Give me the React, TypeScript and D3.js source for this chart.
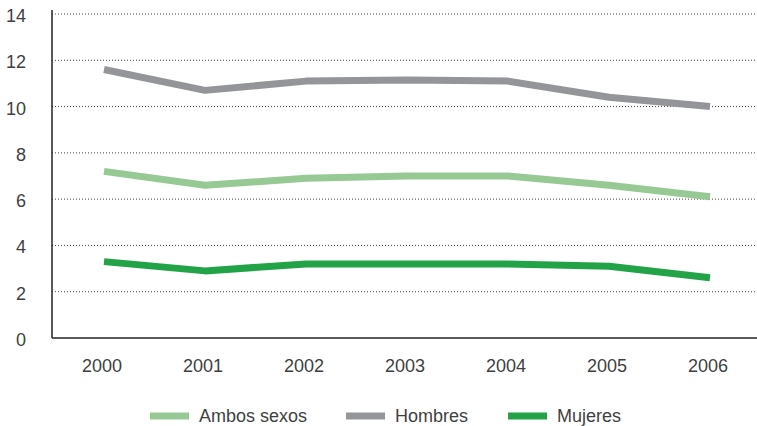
import React from "react";
import * as d3 from "d3";

const years = ["2000", "2001", "2002", "2003", "2004", "2005", "2006"];
const ambos = [7.2, 6.6, 6.9, 7.0, 7.0, 6.6, 6.1];
const hombres = [11.6, 10.7, 11.1, 11.15, 11.1, 10.4, 10.0];
const mujeres = [3.3, 2.9, 3.2, 3.2, 3.2, 3.1, 2.6];
const yTicks = [0, 2, 4, 6, 8, 10, 12, 14];

const seriesNames = ["Ambos sexos", "Hombres", "Mujeres"];
const seriesColors = ["#97c995", "#939598", "#23a347"];

export default function App() {
  const W = 757, H = 426;
  const left = 52, right = 757, top = 14, bottom = 338;
  const x = d3.scalePoint<string>().domain(years).range([104, 710]);
  const y = d3.scaleLinear().domain([0, 14]).range([bottom, top]);
  const line = d3.line<number>().x((_, i) => x(years[i])!).y((d) => y(d));
  const data = [ambos, hombres, mujeres];
  const font = "'Liberation Sans', Arial, Helvetica, sans-serif";
  const legendX = [150, 346, 508];
  return (
    <svg width={W} height={H} style={{ position: "absolute", left: 0, top: 0 }} fontFamily={font}>
      {yTicks.filter((t) => t > 0).map((t) => (
        <line key={t} x1={left} x2={right} y1={y(t)} y2={y(t)} stroke="#444" strokeWidth={1} strokeDasharray="1,2" />
      ))}
      <line x1={left} x2={left} y1={10} y2={bottom} stroke="#222" strokeWidth={1.5} />
      <line x1={left} x2={right} y1={bottom} y2={bottom} stroke="#222" strokeWidth={1.5} />
      {yTicks.map((t) => (
        <text key={t} x={26} y={y(t) + 8} textAnchor="end" fontSize={18} fill="#3f3f3f">{t}</text>
      ))}
      {years.map((yr) => (
        <text key={yr} x={x(yr)! - 2} y={372} textAnchor="middle" fontSize={18} fill="#3f3f3f">{yr}</text>
      ))}
      {data.map((d, i) => (
        <path key={i} d={line(d)!} fill="none" stroke={seriesColors[i]} strokeWidth={7} strokeLinejoin="round" />
      ))}
      {seriesNames.map((n, i) => (
        <g key={n}>
          <line x1={legendX[i]} x2={legendX[i] + 39} y1={416} y2={416} stroke={seriesColors[i]} strokeWidth={7} />
          <text x={legendX[i] + 49} y={422} fontSize={18} fill="#3f3f3f">{n}</text>
        </g>
      ))}
    </svg>
  );
}
